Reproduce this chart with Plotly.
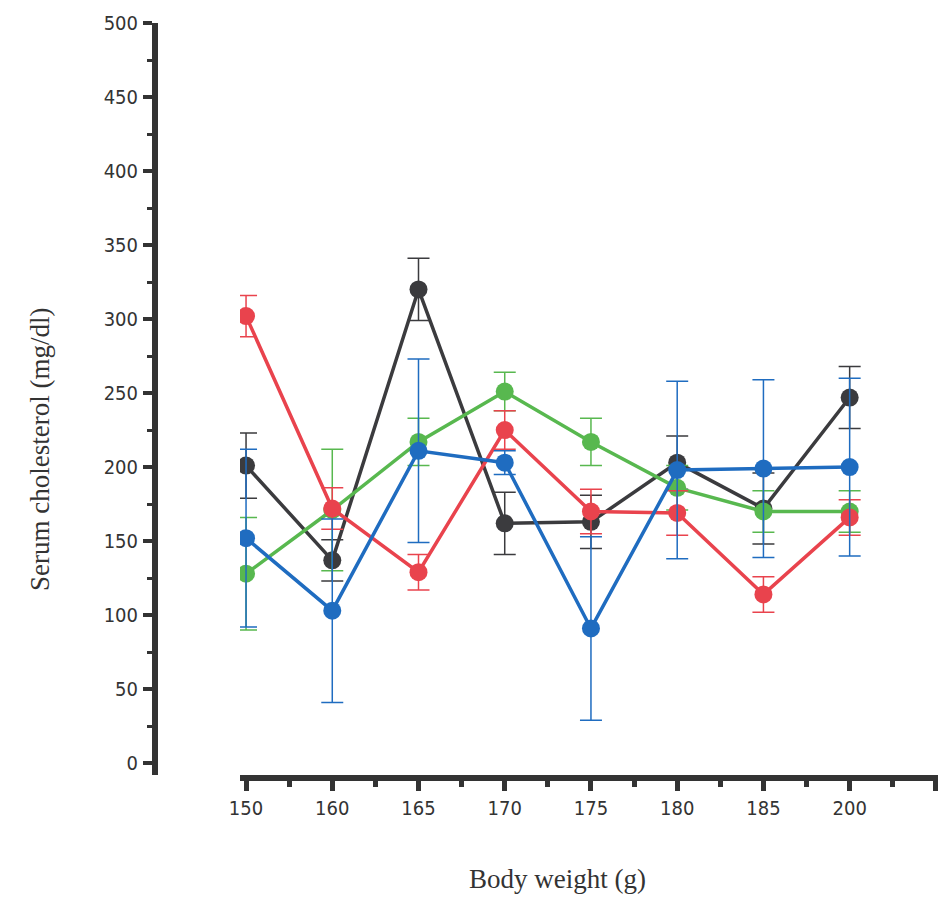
import plotly.graph_objects as go

weights = ["150", "160", "165", "170", "175", "180", "185", "200"]
xpos = list(range(len(weights)))

black_vals = [201, 137, 320, 162, 163, 203, 172, 247]
black_err = [22, 14, 21, 21, 18, 18, 24, 21]
green_vals = [128, 171, 217, 251, 217, 186, 170, 170]
green_err = [38, 41, 16, 13, 16, 15, 14, 14]
red_vals = [302, 172, 129, 225, 170, 169, 114, 166]
red_err = [14, 14, 12, 13, 15, 15, 12, 12]
blue_vals = [152, 103, 211, 203, 91, 198, 199, 200]
blue_err = [60, 62, 62, 8, 62, 60, 60, 60]

series = [
    ("Black", black_vals, black_err, "#3b3b3e"),
    ("Green", green_vals, green_err, "#58b84f"),
    ("Red", red_vals, red_err, "#e9434d"),
    ("Blue", blue_vals, blue_err, "#1f6cc0"),
]

fig = go.Figure()
for name, vals, err, col in series:
    fig.add_trace(go.Scatter(
        x=xpos, y=vals, name=name, mode="lines+markers",
        line=dict(color=col, width=3.5),
        marker=dict(color=col, size=18, line=dict(width=0)),
        error_y=dict(type="data", array=err, visible=True, color=col,
                     thickness=1.5, width=11),
        showlegend=False,
    ))

axis_col = "#333333"
tick_font = dict(family="Liberation Sans Narrow, DejaVu Sans Condensed, Liberation Sans, Arial",
                 size=20, color="#333333")
title_font = dict(family="Liberation Serif, Times New Roman, serif", size=27, color="#333333")

W, H = 946, 900
fig.update_layout(
    width=W, height=H,
    margin=dict(l=0, r=0, t=15, b=133, autoexpand=False),
    paper_bgcolor="white", plot_bgcolor="white",
    xaxis=dict(
        domain=[232 / W, 1],
        range=[-0.07, 8.21],
        automargin=False,
        tickmode="array", tickvals=list(range(9)), ticktext=weights + [""],
        ticks="outside", ticklen=10, tickwidth=5, tickcolor=axis_col,
        minor=dict(tickmode="linear", tick0=0.5, dtick=1, ticks="outside",
                   ticklen=6, tickwidth=5, tickcolor=axis_col),
        showline=True, linewidth=6, linecolor=axis_col,
        showgrid=False, zeroline=False,
        tickfont=tick_font, ticklabelstandoff=0,
    ),
    yaxis=dict(
        range=[-8, 500],
        automargin=False,
        anchor="free", position=147 / W,
        tickmode="linear", tick0=0, dtick=50,
        ticks="outside", ticklen=9, tickwidth=4, tickcolor=axis_col,
        minor=dict(tickmode="linear", tick0=25, dtick=50, ticks="outside",
                   ticklen=5, tickwidth=3, tickcolor=axis_col),
        showline=True, linewidth=6, linecolor=axis_col,
        showgrid=False, zeroline=False,
        tickfont=tick_font, ticklabelstandoff=1,
    ),
    annotations=[
        dict(text="Serum cholesterol (mg/dl)", xref="paper", yref="paper",
             x=32 / W, y=1 - (442 - 15) / 752, textangle=-90,
             showarrow=False, xanchor="center", yanchor="middle",
             font=title_font),
        dict(text="Body weight (g)", xref="paper", yref="paper",
             x=549 / W, y=-(871 - 767) / 752, showarrow=False,
             xanchor="center", yanchor="middle",
             font=title_font),
    ],
)

fig.write_html("out.html")
